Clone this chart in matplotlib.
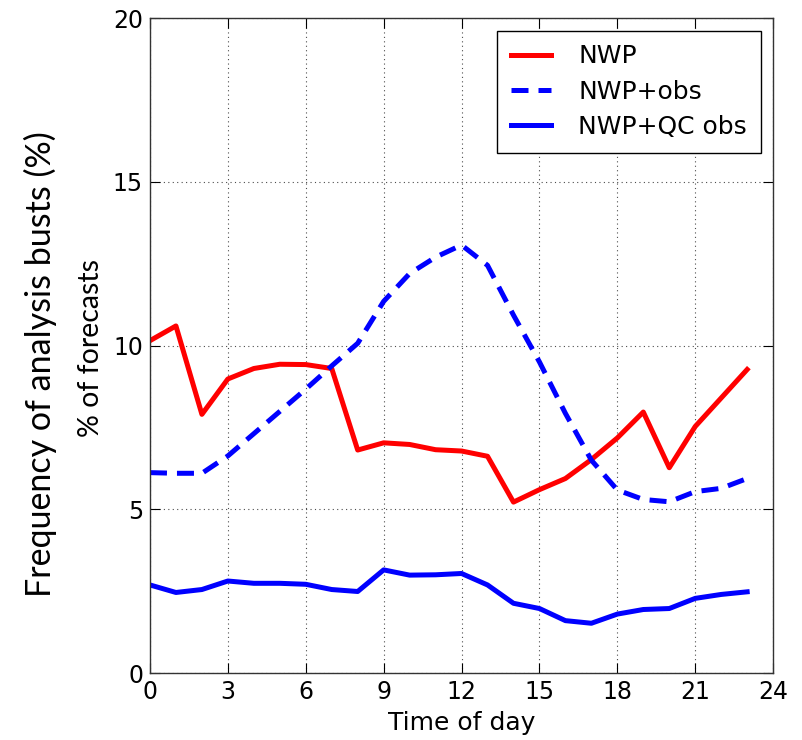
import matplotlib
matplotlib.use("Agg")
import matplotlib.pyplot as plt

hours = list(range(24))
nwp = [10.15, 10.6, 7.9, 8.98, 9.3, 9.43, 9.42, 9.3, 6.81, 7.03, 6.98, 6.82,
       6.78, 6.62, 5.22, 5.6, 5.94, 6.52, 7.18, 7.97, 6.27, 7.53, 8.4, 9.27]
nwp_obs = [6.12, 6.1, 6.1, 6.63, 7.31, 7.99, 8.67, 9.38, 10.07, 11.35, 12.2, 12.7,
           13.07, 12.45, 10.93, 9.5, 7.93, 6.5, 5.59, 5.3, 5.23, 5.54, 5.64, 5.94]
nwp_qc = [2.69, 2.46, 2.55, 2.81, 2.74, 2.74, 2.71, 2.55, 2.49, 3.15, 2.99, 3.0,
          3.04, 2.69, 2.13, 1.97, 1.6, 1.52, 1.8, 1.94, 1.97, 2.28, 2.4, 2.48]
labels = ["NWP", "NWP+obs", "NWP+QC obs"]
xticks = [0, 3, 6, 9, 12, 15, 18, 21, 24]
yticks = [0, 5, 10, 15, 20]

fig = plt.figure(figsize=(8.02, 7.40), dpi=100)
ax = fig.add_axes([0.187, 0.0905, 0.777, 0.885])

ax.plot(hours, nwp, color="red", lw=3.6, label=labels[0])
ax.plot(hours, nwp_obs, color="blue", lw=3.6, ls="--", dashes=(3.4, 2.0), label=labels[1])
ax.plot(hours, nwp_qc, color="blue", lw=3.6, label=labels[2])

ax.set_xlim(0, 24)
ax.set_ylim(0, 20)
ax.set_xticks(xticks)
ax.set_yticks(yticks)
ax.grid(True, color="black", ls=(0, (1, 3)), lw=0.8, alpha=0.7)
ax.tick_params(direction="in", top=True, right=True, length=7, labelsize=17, pad=5)
for s in ax.spines.values():
    s.set_color("#333333")
    s.set_linewidth(1.0)

ax.set_xlabel("Time of day", fontsize=18, labelpad=5)

fig.text(0.05, 0.508, "Frequency of analysis busts (%)", rotation=90, fontsize=24.5,
         family="Lato", ha="center", va="center")
fig.text(0.113, 0.53, "% of forecasts", rotation=90, fontsize=20.5,
         family="Lato", ha="center", va="center")

leg = ax.legend(loc="upper right", fontsize=18, fancybox=False, framealpha=1,
                edgecolor="black", handlelength=1.6, borderpad=0.55,
                labelspacing=0.45, handletextpad=1.1, borderaxespad=0.5)
leg.get_frame().set_linewidth(1.0)

fig.savefig("out.png", dpi=100, facecolor="white")
